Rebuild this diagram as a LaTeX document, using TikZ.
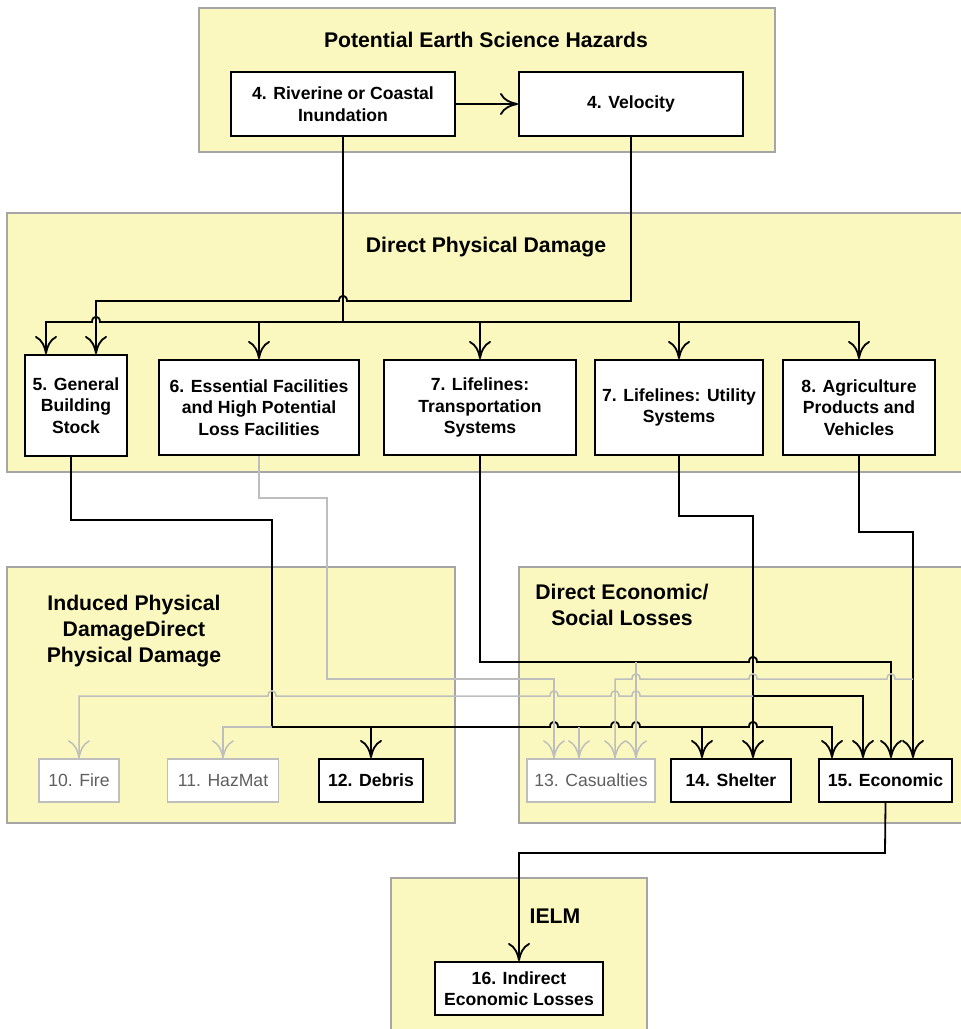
\documentclass[tikz,border=0pt]{standalone}
\usepackage{fontspec}
\setmainfont{Liberation Sans}
\usepackage{tikz}
\usetikzlibrary{arrows.meta, positioning, calc}
\definecolor{zonefill}{RGB}{250,248,190}
\definecolor{zoneline}{RGB}{165,165,165}
\definecolor{fadeline}{RGB}{190,190,190}
\definecolor{fadetext}{RGB}{95,95,95}
\newcommand{\zonefont}{\fontsize{10.6}{12.8}\selectfont\bfseries}
\newcommand{\blockfont}{\fontsize{8.8}{10.8}\selectfont\bfseries}
\newcommand{\fadefont}{\fontsize{8.8}{10.8}\selectfont}
% line jumps: to the right / to the left
\newcommand{\hopr}[2]{-- (#1-4,#2) .. controls (#1-4,#2-7) and (#1+4,#2-7) .. (#1+4,#2)}
\newcommand{\hopl}[2]{-- (#1+4,#2) .. controls (#1+4,#2-7) and (#1-4,#2-7) .. (#1-4,#2)}
\tikzstyle{zone} = [rectangle, draw=zoneline, line width=0.7pt, fill=zonefill, inner sep=0pt]
\tikzstyle{zonetitle} = [font=\zonefont, align=center]
\tikzstyle{block} = [rectangle, draw=black, line width=1pt, fill=white, font=\blockfont, align=center, inner sep=1pt]
\tikzstyle{faded} = [rectangle, draw=fadeline, line width=0.8pt, fill=white, text=fadetext, font=\fadefont, align=center, inner sep=1pt]
\tikzstyle{wire} = [line width=0.9pt]
\tikzstyle{arrow} = [wire, ->, >={Computer Modern Rightarrow[length=9pt,width=11pt]}]
\tikzstyle{faint} = [line width=0.75pt, draw=fadeline]
\tikzstyle{faintarrow} = [faint, ->, >={Computer Modern Rightarrow[length=9pt,width=11pt]}]

\begin{document}
\begin{tikzpicture}[x=0.5pt, y=-0.5pt]
    \useasboundingbox (0,0) rectangle (960,1029);

    % Zones
    \node (hazards) [zone, minimum width=288pt, minimum height=72pt] at (487,80) {};
    \node (direct) [zone, minimum width=477.5pt, minimum height=129.5pt] at (484.5,342.5) {};
    \node (induced) [zone, minimum width=224pt, minimum height=128pt] at (231,695) {};
    \node (social) [zone, minimum width=221.5pt, minimum height=128pt] at (740.5,695) {};
    \node (ielm) [zone, minimum width=128pt, minimum height=77pt] at (519,955) {};

    \node (hazardstitle) [zonetitle] at (486,40) {Potential Earth Science Hazards};
    \node (directtitle) [zonetitle] at (486,247) {Direct Physical Damage};
    \node (inducedtitle) [zonetitle] at (134,631) {Induced Physical\\DamageDirect\\Physical Damage};
    \node (socialtitle) [zonetitle] at (622,605) {Direct Economic/\\Social Losses};
    \node (ielmtitle) [zonetitle] at (555,916) {IELM};

    % Hazards
    \node (riv) [block, minimum width=112pt, minimum height=32pt] at (343,104) {4. Riverine or Coastal\\Inundation};
    \node (vel) [block, minimum width=112pt, minimum height=32pt, right=31pt of riv] {4. Velocity};

    % Direct physical damage
    \node (gbs) [block, minimum width=51pt, minimum height=50.5pt] at (76,405.5) {5. General\\Building\\Stock};
    \node (ess) [block, minimum width=100pt, minimum height=47.5pt] at (259,407.5) {6. Essential Facilities\\and High Potential\\Loss Facilities};
    \node (trn) [block, minimum width=96pt, minimum height=47.5pt] at (480,407.5) {7. Lifelines:\\Transportation\\Systems};
    \node (utl) [block, minimum width=84pt, minimum height=47.5pt] at (679,407.5) {7. Lifelines: Utility\\Systems};
    \node (agr) [block, minimum width=76pt, minimum height=47.5pt] at (859,407.5) {8. Agriculture\\Products and\\Vehicles};

    % Induced damage and losses
    \node (fire) [faded, minimum width=40pt, minimum height=21.5pt] at (79,780.5) {10. Fire};
    \node (haz) [faded, minimum width=55.5pt, minimum height=21.5pt] at (223,780.5) {11. HazMat};
    \node (deb) [block, minimum width=52pt, minimum height=21.5pt] at (371,780.5) {12. Debris};
    \node (cas) [faded, minimum width=64pt, minimum height=21.5pt] at (591,780.5) {13. Casualties};
    \node (shl) [block, minimum width=60pt, minimum height=21.5pt] at (731,780.5) {14. Shelter};
    \node (eco) [block, minimum width=66.5pt, minimum height=21.5pt] at (885.5,780.5) {15. Economic};
    \node (ind) [block, minimum width=84pt, minimum height=26.5pt] at (519,988.5) {16. Indirect\\Economic Losses};

    % Junctions
    \coordinate (j5) at (272,727);
    \coordinate (j7) at (753,696);

    % From hazards
    \draw [arrow] (riv.east) -- (vel.west);
    \draw [arrow] (vel.south) -- (vel.south |- 0,301) \hopl{343}{301} -- (96,301) -- (96,0 |- gbs.north);
    \draw [arrow] (riv.south) -- (343,322) \hopl{96}{322} -- (46,322) -- (46,0 |- gbs.north);
    \draw [arrow] (riv.south) -- (343,322) -| (ess.north);
    \draw [arrow] (riv.south) -- (343,322) -| (trn.north);
    \draw [arrow] (riv.south) -- (343,322) -| (utl.north);
    \draw [arrow] (riv.south) -- (343,322) -| (agr.north);

    % From 5
    \draw [wire] (71,0 |- gbs.south) -- (71,520) -- (272,520) -- (j5);
    \draw [arrow] (j5) -| (deb.north);
    \draw [arrow] (j5) \hopr{554}{727} \hopr{615}{727} \hopr{636}{727} -- (702,727) -- (702,0 |- shl.north);
    \draw [arrow] (702,727) \hopr{753}{727} -- (832,727) -- (832,0 |- eco.north);
    \draw [faintarrow] (j5) -| (haz.north);
    \draw [faintarrow] (579,727) -- (579,0 |- cas.north);

    % From 6
    \draw [faintarrow] (ess.south) -- (259,498) -- (327,498) -- (327,679) -- (554,679) -- (554,0 |- cas.north);

    % From 7 transportation
    \draw [arrow] (trn.south) -- (480,662) \hopr{753}{662} -- (891,662) -- (891,0 |- eco.north);
    \draw [faintarrow] (636,662) -- (636,0 |- cas.north);

    % From 7 utility
    \draw [arrow] (utl.south) -- (679,516) -- (753,516) -- (753,0 |- shl.north);
    \draw [arrow] (j7) -| (863,0 |- eco.north);
    \draw [faintarrow] (j7) \hopl{636}{696} \hopl{615}{696} \hopl{554}{696} \hopl{272}{696} -| (fire.north);

    % From 8
    \draw [arrow] (agr.south) -- (859,532) -- (913,532) -- (913,0 |- eco.north);
    \draw [faintarrow] (913,679) \hopl{891}{679} \hopl{753}{679} \hopl{636}{679} -- (615,679) -- (615,0 |- cas.north);

    % To IELM
    \draw [arrow] (eco.south) -- (885,853) -| (ind.north);
\end{tikzpicture}
\end{document}
